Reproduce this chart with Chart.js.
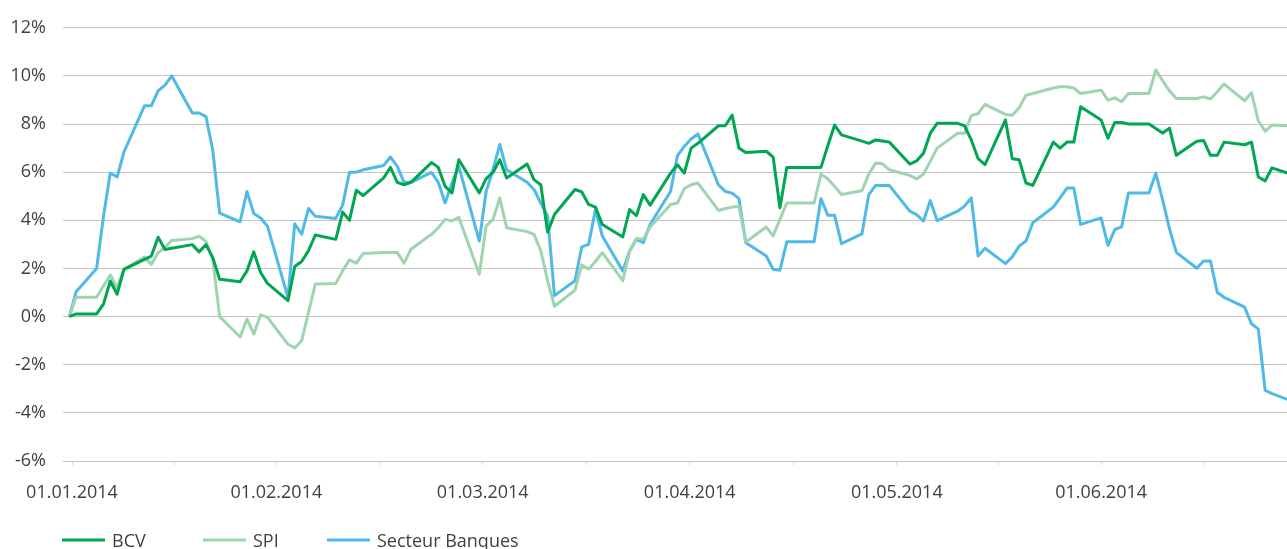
<!DOCTYPE html>
<html>
<head>
<meta charset="utf-8">
<script src="https://cdn.jsdelivr.net/npm/chart.js@4/dist/chart.umd.min.js"></script>
<style>
  html, body { margin: 0; padding: 0; background: #fff; }
  canvas { display: block; }
</style>
</head>
<body>
<canvas id="perfChart" width="1287" height="549"></canvas>
<script>
// jours ouvrables depuis le 02.01.2014
const days = [0, 1,
  4, 5, 6, 7, 8,
  11, 12, 13, 14, 15,
  18, 19, 20, 21, 22,
  25, 26, 27, 28, 29,
  32, 33, 34, 35, 36,
  39, 40, 41, 42, 43,
  46, 47, 48, 49, 50,
  53, 54, 55, 56, 57,
  60, 61, 62, 63, 64,
  67, 68, 69, 70, 71,
  74, 75, 76, 77, 78,
  81, 82, 83, 84, 85,
  88, 89, 90, 91, 92,
  95, 96, 97, 98, 99,
  102, 103, 104, 105, 106,
  109, 110, 111, 112, 113,
  116, 117, 118, 119, 120,
  123, 124, 125, 126, 127,
  130, 131, 132, 133, 134,
  137, 138, 139, 140, 141,
  144, 145, 146, 147, 148,
  151, 152, 153, 154, 155,
  158, 159, 160, 161, 162,
  165, 166, 167, 168, 169,
  172, 173, 174, 175, 176,
  179];

const bcv = [0, 0.11,
  0.11, 0.52, 1.48, 0.93, 1.96,
  2.38, 2.51, 3.30, 2.79, 2.84,
  2.99, 2.69, 2.99, 2.45, 1.55,
  1.45, 1.90, 2.69, 1.83, 1.38,
  0.66, 2.08, 2.29, 2.73, 3.39,
  3.21, 4.34, 4.00, 5.25, 5.03,
  5.76, 6.20, 5.58, 5.48, 5.58,
  6.40, 6.20, 5.41, 5.14, 6.52,
  5.14, 5.73, 5.99, 6.52, 5.76,
  6.34, 5.69, 5.48, 3.51, 4.24,
  5.28, 5.18, 4.66, 4.55, 3.83,
  3.31, 4.45, 4.20, 5.07, 4.63,
  5.96, 6.31, 5.96, 7.00, 7.20,
  7.93, 7.93, 8.37, 7.00, 6.82,
  6.87, 6.63, 4.52, 6.20, 6.20,
  6.20, 6.20, 7.10, 7.96, 7.55,
  7.29, 7.20, 7.34, 7.30, 7.25,
  6.34, 6.47, 6.79, 7.62, 8.03,
  8.03, 7.93, 7.34, 6.56, 6.31,
  8.17, 6.56, 6.52, 5.55, 5.45,
  7.25, 7.00, 7.25, 7.25, 8.72,
  8.17, 7.41, 8.07, 8.07, 8.00,
  8.00, 7.82, 7.63, 7.83, 6.70,
  7.29, 7.32, 6.70, 6.70, 7.25,
  7.14, 7.25, 5.80, 5.64, 6.18,
  5.90];

const spi = [0, 0.80,
  0.80, 1.27, 1.73, 1.20, 1.97,
  2.47, 2.17, 2.65, 2.88, 3.16,
  3.24, 3.34, 3.13, 2.37, 0.00,
  -0.85, -0.10, -0.72, 0.07, -0.03,
  -1.15, -1.30, -1.00, 0.17, 1.35,
  1.38, 1.90, 2.36, 2.22, 2.62,
  2.66, 2.66, 2.66, 2.22, 2.80,
  3.42, 3.69, 4.04, 3.97, 4.13,
  1.76, 3.76, 4.04, 4.93, 3.69,
  3.53, 3.42, 2.73, 1.49, 0.43,
  1.10, 2.15, 1.97, 2.29, 2.66,
  1.49, 2.73, 3.25, 3.21, 3.72,
  4.66, 4.72, 5.32, 5.48, 5.55,
  4.41, 4.49, 4.55, 4.58, 3.10,
  3.72, 3.35, 4.04, 4.72, 4.72,
  4.72, 5.92, 5.73, 5.41, 5.07,
  5.23, 5.92, 6.38, 6.35, 6.10,
  5.87, 5.72, 5.92, 6.45, 7.00,
  7.62, 7.62, 8.35, 8.44, 8.82,
  8.40, 8.37, 8.68, 9.20, 9.27,
  9.50, 9.55, 9.55, 9.50, 9.27,
  9.41, 8.99, 9.09, 8.93, 9.27,
  9.27, 10.25, 9.80, 9.38, 9.06,
  9.06, 9.13, 9.04, 9.34, 9.66,
  8.97, 9.31, 8.14, 7.70, 7.96,
  7.92];

const banques = [0, 1.03,
  2.00, 4.16, 5.97, 5.80, 6.84,
  8.76, 8.76, 9.38, 9.62, 10.00,
  8.46, 8.46, 8.31, 6.91, 4.30,
  3.94, 5.20, 4.28, 4.10, 3.76,
  0.80, 3.86, 3.42, 4.49, 4.17,
  4.08, 4.63, 6.00, 6.00, 6.10,
  6.28, 6.63, 6.24, 5.58, 5.58,
  5.99, 5.58, 4.72, 5.55, 6.24,
  3.14, 5.20, 6.10, 7.16, 6.10,
  5.58, 5.28, 4.72, 4.17, 0.87,
  1.49, 2.90, 3.00, 4.45, 3.35,
  1.90, 2.73, 3.21, 3.07, 3.83,
  5.21, 6.69, 7.07, 7.38, 7.59,
  5.47, 5.20, 5.13, 4.90, 3.07,
  2.52, 1.97, 1.93, 3.11, 3.11,
  3.11, 4.90, 4.21, 4.21, 3.03,
  3.44, 5.07, 5.45, 5.45, 5.45,
  4.38, 4.24, 3.97, 4.82, 3.99,
  4.38, 4.59, 4.93, 2.52, 2.84,
  2.20, 2.48, 2.93, 3.14, 3.90,
  4.55, 4.93, 5.34, 5.34, 3.83,
  4.10, 2.96, 3.62, 3.73, 5.14,
  5.14, 5.96, 4.85, 3.65, 2.67,
  2.01, 2.31, 2.31, 1.00, 0.80,
  0.39, -0.30, -0.51, -3.06, -3.20,
  -3.52];

const tickDays = [0.4, 30.3, 60.5, 90.8, 121.1, 151.0];
const tickLabels = ['01.01.2014', '01.02.2014', '01.03.2014', '01.04.2014', '01.05.2014', '01.06.2014'];

const seriesNames = ['BCV', 'SPI', 'Secteur Banques'];
const seriesColors = ['#00a651', '#9fd4b0', '#4fb9e8'];

const textColor = '#404040';
Chart.defaults.font.family = '"Open Sans", "DejaVu Sans", sans-serif';
Chart.defaults.font.size = 18;
Chart.defaults.color = textColor;

function toPoints(values) {
    return days.map((d, i) => ({ x: d, y: values[i] }));
}

// petites marques entre les dates
let tickMarks = [];
tickDays.forEach((d, i) => {
    tickMarks.push(d);
    let next = i < tickDays.length - 1 ? tickDays[i + 1] : d + 30.2;
    tickMarks.push((d + next) / 2);
});

// légende en bas, comme l'original
const legendX = [62, 203, 327];
const bottomLegend = {
    id: 'bottomLegend',
    afterDraw(chart) {
        const ctx = chart.ctx;
        ctx.save();
        ctx.font = '18px "Open Sans", "DejaVu Sans", sans-serif';
        ctx.textBaseline = 'alphabetic';
        chart.data.datasets.forEach((ds, i) => {
            let x = legendX[i];
            ctx.strokeStyle = ds.borderColor;
            ctx.lineWidth = 3;
            ctx.beginPath();
            ctx.moveTo(x, 540);
            ctx.lineTo(x + 43, 540);
            ctx.stroke();
            ctx.fillStyle = textColor;
            ctx.fillText(ds.label, x + 50, 547);
        });
        ctx.restore();
    }
};

let ctx = document.getElementById('perfChart').getContext('2d');
let perfChart = new Chart(ctx, {
    type: 'line',
    data: {
        datasets: [bcv, spi, banques].map((vals, i) => ({
            label: seriesNames[i],
            data: toPoints(vals),
            borderColor: seriesColors[i],
            backgroundColor: seriesColors[i],
            borderWidth: 3,
            pointRadius: 0,
            tension: 0,
            borderJoinStyle: 'round',
            fill: false
        }))
    },
    options: {
        responsive: false,
        animation: false,
        devicePixelRatio: 1,
        layout: { padding: { top: 24, right: 0, bottom: 40, left: 0 } },
        plugins: {
            legend: { display: false },
            tooltip: { enabled: false }
        },
        scales: {
            x: {
                type: 'linear',
                min: -0.92,
                max: 178.2,
                afterBuildTicks: s => { s.ticks = tickMarks.map(v => ({ value: v })); },
                afterFit: s => { s.height = 48; },
                border: { display: false },
                grid: {
                    drawOnChartArea: false,
                    drawTicks: true,
                    tickLength: 4,
                    color: '#d4d4d4'
                },
                ticks: {
                    autoSkip: false,
                    maxRotation: 0,
                    padding: 17,
                    callback: value => {
                        let i = tickDays.indexOf(value);
                        return i >= 0 ? tickLabels[i] : '';
                    }
                }
            },
            y: {
                min: -6,
                max: 12,
                afterFit: s => { s.width = 63; },
                border: { display: false },
                grid: { color: '#c4c4c4', lineWidth: 1, drawTicks: false },
                ticks: {
                    stepSize: 2,
                    padding: 17,
                    callback: v => v + '%'
                }
            }
        }
    },
    plugins: [bottomLegend]
});
</script>
</body>
</html>
